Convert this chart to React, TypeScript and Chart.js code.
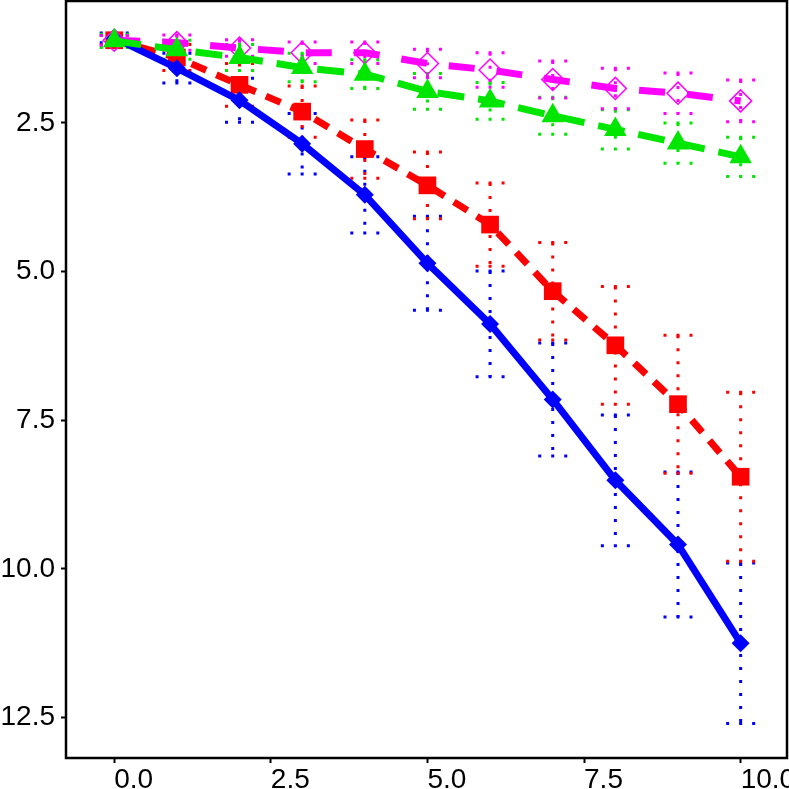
import React, { useEffect, useRef } from "react";
import { Chart, registerables } from "chart.js";

Chart.register(...registerables);

// x positions shared by every series
const xValues = [0, 1, 2, 3, 4, 5, 6, 7, 8, 9, 10];

const blueValues = [1.07, 1.58, 2.12, 2.85, 3.71, 4.86, 5.88, 7.15, 8.51, 9.59, 11.25];
const blueErrors = [0.08, 0.25, 0.37, 0.51, 0.64, 0.79, 0.89, 0.95, 1.1, 1.22, 1.35];

const redValues = [1.11, 1.4, 1.86, 2.31, 2.94, 3.55, 4.21, 5.33, 6.24, 7.23, 8.45];
const redErrors = [0.08, 0.22, 0.36, 0.43, 0.49, 0.56, 0.7, 0.82, 0.99, 1.16, 1.42];

const greenValues = [1.12, 1.27, 1.4, 1.57, 1.68, 1.97, 2.13, 2.38, 2.61, 2.84, 3.07];
const greenErrors = [0.11, 0.16, 0.22, 0.24, 0.24, 0.3, 0.31, 0.31, 0.33, 0.34, 0.33];

const magentaValues = [1.11, 1.15, 1.24, 1.32, 1.32, 1.5, 1.61, 1.77, 1.92, 2.0, 2.13];
const magentaErrors = [0.08, 0.13, 0.14, 0.18, 0.18, 0.24, 0.29, 0.31, 0.34, 0.34, 0.35];

const xTicks = [0, 2.5, 5, 7.5, 10];
const yTicks = [2.5, 5, 7.5, 10, 12.5];

const FONT = { family: "'Liberation Sans', Arial, Helvetica, sans-serif", size: 28 };

const toPoints = (values: number[]) => xValues.map((x, i) => ({ x, y: values[i] }));

// dotted vertical error bars with dotted caps, drawn under the lines
const errorBarPlugin = {
  id: "errorBars",
  beforeDatasetsDraw(chart: any) {
    const { ctx, chartArea } = chart;
    const xScale = chart.scales.x;
    const yScale = chart.scales.y;
    ctx.save();
    ctx.beginPath();
    ctx.rect(chartArea.left, chartArea.top, chartArea.right - chartArea.left, chartArea.bottom - chartArea.top);
    ctx.clip();
    chart.data.datasets.forEach((ds: any) => {
      const errs: number[] = ds.errors;
      ctx.strokeStyle = ds.borderColor;
      ctx.lineWidth = 3;
      ctx.lineCap = "butt";
      ctx.setLineDash([3, 10]);
      ds.data.forEach((p: any, i: number) => {
        const px = xScale.getPixelForValue(p.x);
        const top = yScale.getPixelForValue(p.y - errs[i]);
        const bottom = yScale.getPixelForValue(p.y + errs[i]);
        ctx.beginPath();
        ctx.moveTo(px, top);
        ctx.lineTo(px, bottom);
        ctx.stroke();
        [top, bottom].forEach((cy) => {
          ctx.beginPath();
          ctx.moveTo(px - 14.5, cy);
          ctx.lineTo(px + 14.5, cy);
          ctx.stroke();
        });
      });
    });
    ctx.restore();
  },
  afterDraw(chart: any) {
    const { ctx, chartArea } = chart;
    ctx.save();
    ctx.strokeStyle = "#000";
    ctx.lineWidth = 2.5;
    ctx.setLineDash([]);
    ctx.strokeRect(chartArea.left, chartArea.top, chartArea.right - chartArea.left, chartArea.bottom - chartArea.top);
    ctx.restore();
  },
};

const App: React.FC = () => {
  const canvasRef = useRef<HTMLCanvasElement | null>(null);

  useEffect(() => {
    document.body.style.margin = "0";
    if (!canvasRef.current) return;

    const chart = new Chart(canvasRef.current, {
      type: "line",
      data: {
        datasets: [
          {
            data: toPoints(blueValues),
            errors: blueErrors,
            borderColor: "#0000ff",
            borderWidth: 7,
            pointStyle: "rectRot",
            pointRadius: 9,
            pointBackgroundColor: "#0000ff",
            pointBorderWidth: 0,
            order: 2,
          },
          {
            data: toPoints(redValues),
            errors: redErrors,
            borderColor: "#ff0000",
            borderWidth: 7,
            borderDash: [16, 11],
            pointStyle: "rect",
            pointRadius: 12.5,
            pointBackgroundColor: "#ff0000",
            pointBorderWidth: 0,
            order: 3,
          },
          {
            data: toPoints(greenValues),
            errors: greenErrors,
            borderColor: "#00e600",
            borderWidth: 7,
            borderDash: [27, 14],
            pointStyle: "triangle",
            pointRadius: 13,
            pointBackgroundColor: "#00e600",
            pointBorderWidth: 0,
            order: 0,
          },
          {
            data: toPoints(magentaValues),
            errors: magentaErrors,
            borderColor: "#ff00ff",
            borderWidth: 7,
            borderDash: [26, 22],
            pointStyle: "rectRot",
            pointRadius: 11,
            pointBackgroundColor: "rgba(0,0,0,0)",
            pointBorderColor: "#ff00ff",
            pointBorderWidth: 1.5,
            order: 1,
          },
        ] as any,
      },
      options: {
        animation: false,
        responsive: false,
        events: [],
        layout: { autoPadding: false, padding: { top: 1, right: 2, bottom: 0, left: 0 } },
        elements: { line: { tension: 0, borderJoinStyle: "round" } },
        plugins: { legend: { display: false }, tooltip: { enabled: false } },
        scales: {
          x: {
            type: "linear",
            min: -0.77,
            max: 10.74,
            border: { display: false },
            grid: { display: true, drawOnChartArea: false, drawTicks: true, tickLength: 5, tickWidth: 2, color: "#000" },
            ticks: {
              align: "start",
              padding: 0,
              color: "#000",
              font: FONT,
              maxRotation: 0,
              minRotation: 0,
              autoSkip: false,
              callback: (v: any) => Number(v).toFixed(1),
            },
            afterBuildTicks: (scale: any) => {
              scale.ticks = xTicks.map((value) => ({ value }));
            },
            afterFit: (scale: any) => {
              scale.height = 31;
              scale.paddingLeft = 0;
              scale.paddingRight = 0;
            },
          },
          y: {
            type: "linear",
            reverse: true,
            min: 0.45,
            max: 13.18,
            border: { display: false },
            grid: { display: true, drawOnChartArea: false, drawTicks: true, tickLength: 5, tickWidth: 2, color: "#000" },
            ticks: {
              padding: 6,
              color: "#000",
              font: FONT,
              autoSkip: false,
              callback: (v: any) => Number(v).toFixed(1),
            },
            afterBuildTicks: (scale: any) => {
              scale.ticks = yTicks.map((value) => ({ value }));
            },
            afterFit: (scale: any) => {
              scale.width = 66;
              scale.paddingTop = 0;
              scale.paddingBottom = 0;
            },
          },
        },
      },
      plugins: [errorBarPlugin],
    });

    return () => {
      chart.destroy();
    };
  }, []);

  return (
    <div style={{ width: 789, height: 789 }}>
      <canvas ref={canvasRef} width={789} height={789}></canvas>
    </div>
  );
};

export default App;
